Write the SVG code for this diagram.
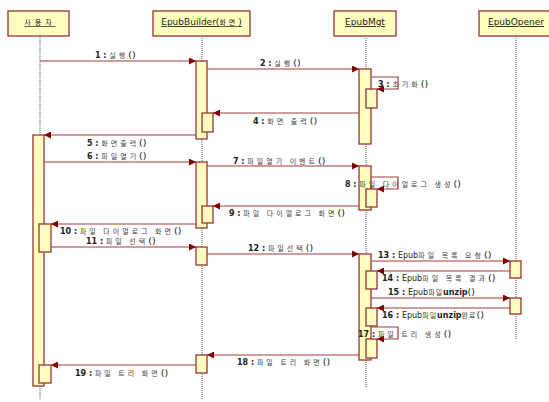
<svg xmlns="http://www.w3.org/2000/svg" width="549" height="402" viewBox="0 0 549 402">
<defs>
<marker id="ah" viewBox="0 0 10 10" refX="10" refY="5" markerWidth="10" markerHeight="7" markerUnits="userSpaceOnUse" orient="auto">
<path d="M0,0 L10,5 L0,10 z" fill="#800000"/>
</marker>
<style>
.hd{fill:#FFFFC0;stroke:#993333;stroke-width:1.3}
.ht{font-family:"DejaVu Sans","Noto Sans CJK KR",sans-serif;font-size:9px;fill:#222;text-anchor:middle;text-decoration:underline}
.ll{stroke:#555;stroke-width:1;stroke-dasharray:1,1;fill:none}
.act{fill:#FFFFC0;stroke:#993333;stroke-width:1.3}
.msg{stroke:#A33A3A;stroke-width:1.2;fill:none;marker-end:url(#ah)}
.lb{font-family:"DejaVu Sans","Noto Sans CJK KR",sans-serif;font-size:8px;fill:#222;font-weight:bold}
.k{font-family:"Noto Sans CJK KR",sans-serif;font-size:7px;font-weight:normal;letter-spacing:3px;fill:#444}
.n{font-weight:normal}
.p{font-weight:normal;font-size:9.5px}
</style>
</defs>
<g id="lifelines">
<line class="ll" x1="40" y1="36" x2="40" y2="400"/>
<line class="ll" x1="202" y1="36" x2="202" y2="400"/>
<line class="ll" x1="366" y1="36" x2="366" y2="388"/>
<line class="ll" x1="516" y1="36" x2="516" y2="340"/>
</g>
<g id="user"><rect class="hd" x="8" y="11" width="61" height="25"/><text class="ht" x="40" y="25" style="font-size:7px;letter-spacing:4px">사용자</text></g>
<g id="builder"><rect class="hd" x="153" y="11" width="97" height="25"/><text class="ht" x="201.5" y="25">EpubBuilder(<tspan style="font-size:7px;letter-spacing:3px">화면</tspan>)</text></g>
<g id="mgt"><rect class="hd" x="334" y="11" width="62" height="25"/><text class="ht" x="365" y="25">EpubMgt</text></g>
<g id="opener"><rect class="hd" x="479" y="11" width="74" height="25"/><text class="ht" x="516" y="25">EpubOpener</text></g>
<g id="activations">
<rect class="act" x="33" y="135" width="11" height="251"/>
<rect class="act" x="39" y="224" width="12" height="28"/>
<rect class="act" x="39" y="365" width="12" height="18"/>
<rect class="act" x="196" y="61" width="11" height="78"/>
<rect class="act" x="202" y="113" width="11" height="19"/>
<rect class="act" x="196" y="162" width="11" height="66"/>
<rect class="act" x="202" y="206" width="11" height="17"/>
<rect class="act" x="196" y="247" width="11" height="18"/>
<rect class="act" x="196" y="355" width="11" height="18"/>
<rect class="act" x="359" y="69" width="12" height="75"/>
<rect class="act" x="366" y="89" width="11" height="19"/>
<rect class="act" x="359" y="166" width="12" height="44"/>
<rect class="act" x="366" y="189" width="11" height="18"/>
<rect class="act" x="359" y="254" width="12" height="106"/>
<rect class="act" x="366" y="271" width="11" height="18"/>
<rect class="act" x="366" y="308" width="11" height="18"/>
<rect class="act" x="366" y="339" width="11" height="19"/>
<rect class="act" x="510" y="261" width="11" height="17"/>
<rect class="act" x="510" y="298" width="11" height="16"/>
</g>
<g id="connectors">
<line class="msg" x1="40" y1="61" x2="196" y2="61"/>
<line class="msg" x1="207" y1="69" x2="359" y2="69"/>
<polyline class="msg" points="371,77 398,77 398,89 377,89"/>
<line class="msg" x1="359" y1="113" x2="213" y2="113"/>
<line class="msg" x1="196" y1="135" x2="44" y2="135"/>
<line class="msg" x1="44" y1="162" x2="196" y2="162"/>
<line class="msg" x1="207" y1="166" x2="359" y2="166"/>
<polyline class="msg" points="371,177 398,177 398,189 377,189"/>
<line class="msg" x1="359" y1="206" x2="213" y2="206"/>
<line class="msg" x1="196" y1="224" x2="51" y2="224"/>
<line class="msg" x1="51" y1="247" x2="196" y2="247"/>
<line class="msg" x1="207" y1="254" x2="359" y2="254"/>
<line class="msg" x1="371" y1="261" x2="510" y2="261"/>
<line class="msg" x1="510" y1="271" x2="377" y2="271"/>
<line class="msg" x1="371" y1="298" x2="510" y2="298"/>
<line class="msg" x1="510" y1="308" x2="377" y2="308"/>
<polyline class="msg" points="371,327 398,327 398,339 377,339"/>
<line class="msg" x1="359" y1="355" x2="207" y2="355"/>
<line class="msg" x1="196" y1="365" x2="51" y2="365"/>
</g>
<g id="labels">
<text class="lb" x="95" y="58">1 : <tspan class="k">실행</tspan><tspan class="p">()</tspan></text>
<text class="lb" x="260" y="66">2 : <tspan class="k">실행</tspan><tspan class="p">()</tspan></text>
<text class="lb" x="378" y="87">3 : <tspan class="k">초기화</tspan><tspan class="p">()</tspan></text>
<text class="lb" x="253" y="124">4 : <tspan class="k">화면 출력</tspan><tspan class="p">()</tspan></text>
<text class="lb" x="87" y="146">5 : <tspan class="k">화면출력</tspan><tspan class="p">()</tspan></text>
<text class="lb" x="87" y="159">6 : <tspan class="k">파일열기</tspan><tspan class="p">()</tspan></text>
<text class="lb" x="233" y="164">7 : <tspan class="k">파일열기 이벤트</tspan><tspan class="p">()</tspan></text>
<text class="lb" x="345" y="187">8 : <tspan class="k">파일 다이얼로그 생성</tspan><tspan class="p">()</tspan></text>
<text class="lb" x="229" y="216">9 : <tspan class="k">파일 다이얼로그 화면</tspan><tspan class="p">()</tspan></text>
<text class="lb" x="60" y="234">10 : <tspan class="k">파일 다이얼로그 화면</tspan><tspan class="p">()</tspan></text>
<text class="lb" x="86" y="244">11 : <tspan class="k">파일 선택</tspan><tspan class="p">()</tspan></text>
<text class="lb" x="248" y="251">12 : <tspan class="k">파일선택</tspan><tspan class="p">()</tspan></text>
<text class="lb" x="378" y="258">13 : <tspan class="n">Epub</tspan><tspan class="k">파일 목록 요청</tspan><tspan class="p">()</tspan></text>
<text class="lb" x="382" y="281">14 : <tspan class="n">Epub</tspan><tspan class="k">파일 목록 결과</tspan><tspan class="p">()</tspan></text>
<text class="lb" x="388" y="295">15 : <tspan class="n">Epub</tspan><tspan class="k" style="letter-spacing:1px">파일</tspan><tspan>unzip</tspan><tspan class="p">()</tspan></text>
<text class="lb" x="382" y="318">16 : <tspan class="n">Epub</tspan><tspan class="k" style="letter-spacing:1px">파일</tspan><tspan>unzip</tspan><tspan class="k" style="letter-spacing:1px">완료</tspan><tspan class="p">()</tspan></text>
<text class="lb" x="358" y="337">17 : <tspan class="k">파일 트리 생성</tspan><tspan class="p">()</tspan></text>
<text class="lb" x="237" y="365">18 : <tspan class="k">파일 트리 화면</tspan><tspan class="p">()</tspan></text>
<text class="lb" x="75" y="376">19 : <tspan class="k">파일 트리 화면</tspan><tspan class="p">()</tspan></text>
</g>
</svg>
